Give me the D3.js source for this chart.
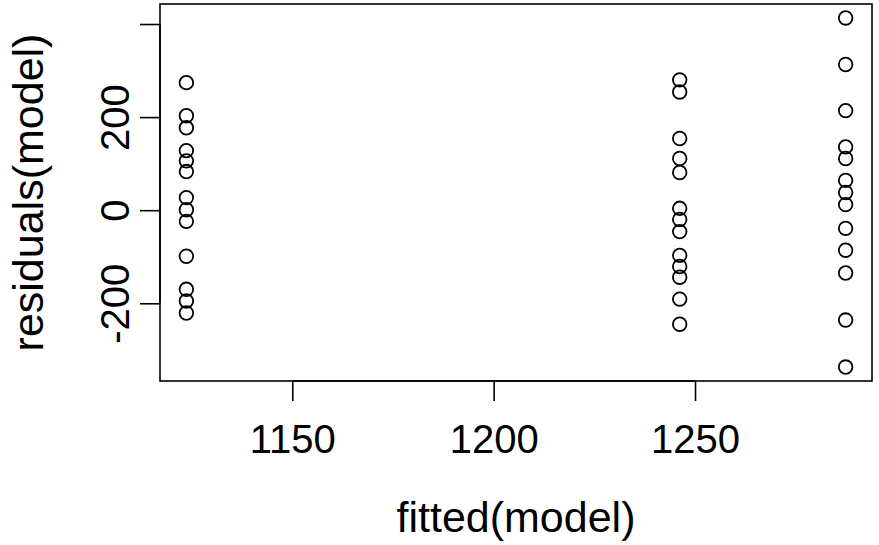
<!DOCTYPE html>
<html>
<head>
<meta charset="utf-8">
<script src="https://cdn.jsdelivr.net/npm/d3@7/dist/d3.min.js"></script>
<style>
  body { margin: 0; background: #fff; }
  svg text { font-family: "Liberation Sans", Arial, sans-serif; fill: #000; }
</style>
</head>
<body>
<svg id="chart"></svg>
<script>
// fitted values (three groups) and residuals
const fittedLevels = [1123.7, 1246.2, 1287.4];
const residGroup1 = [274, 203, 177, 128, 106, 83, 27, 1, -24, -99, -170, -195, -221];
const residGroup2 = [280, 254, 154, 111, 81, 4, -20, -46, -97, -121, -144, -191, -245];
const residGroup3 = [413, 313, 214, 136, 111, 64, 38, 12, -39, -86, -135, -236, -337];
const xTicks = [1150, 1200, 1250];
const yTicks = [-200, 0, 200, 400];
const yTickLabels = ["-200", "0", "200", ""]; // R drops the 400 label
const xLabel = "fitted(model)";
const yLabel = "residuals(model)";

const width = 879, height = 545;
const plot = {left: 160, right: 872, top: 4, bottom: 381};

const points = [];
[residGroup1, residGroup2, residGroup3].forEach((grp, i) => {
    grp.forEach(r => points.push({fitted: fittedLevels[i], resid: r}));
});

// R style: extend the data range by 4% on each side
const pad = ([lo, hi]) => [lo - (hi - lo) * 0.04, hi + (hi - lo) * 0.04];

const x = d3.scaleLinear()
    .domain(pad(d3.extent(points, d => d.fitted)))
    .range([plot.left, plot.right]);
const y = d3.scaleLinear()
    .domain(pad(d3.extent(points, d => d.resid)))
    .range([plot.bottom, plot.top]);

const svg = d3.select("#chart").attr("width", width).attr("height", height);

// box
svg.append("rect")
    .attr("x", plot.left).attr("y", plot.top)
    .attr("width", plot.right - plot.left).attr("height", plot.bottom - plot.top)
    .attr("fill", "none").attr("stroke", "#000").attr("stroke-width", 1.6);

// x axis
const xAxis = svg.append("g")
    .attr("transform", `translate(0,${plot.bottom})`)
    .call(d3.axisBottom(x).tickValues(xTicks).tickSize(20).tickPadding(0).tickSizeOuter(0)
        .tickFormat(d3.format("d")));
xAxis.select(".domain").attr("d", `M${x(xTicks[0])},0H${x(xTicks[xTicks.length - 1])}`)
    .attr("stroke-width", 1.6);
xAxis.selectAll(".tick line").attr("stroke-width", 1.6);
xAxis.selectAll(".tick text")
    .attr("y", 72).attr("dy", null)
    .style("font-size", "40px");

// y axis
const yAxis = svg.append("g")
    .attr("transform", `translate(${plot.left},0)`)
    .call(d3.axisLeft(y).tickValues(yTicks).tickSize(20).tickSizeOuter(0)
        .tickFormat((d, i) => yTickLabels[i]));
yAxis.select(".domain").attr("d", `M0,${y(yTicks[0])}V${y(yTicks[yTicks.length - 1])}`)
    .attr("stroke-width", 1.6);
yAxis.selectAll(".tick line").attr("stroke-width", 1.6);
yAxis.selectAll(".tick text")
    .attr("x", null).attr("dy", null)
    .attr("text-anchor", "middle")
    .attr("transform", "translate(-31,0) rotate(-90)")
    .style("font-size", "40px");

// points
svg.append("g")
    .selectAll("circle")
    .data(points)
    .enter()
    .append("circle")
    .attr("cx", d => x(d.fitted))
    .attr("cy", d => y(d.resid))
    .attr("r", 6.8)
    .attr("fill", "none")
    .attr("stroke", "#000")
    .attr("stroke-width", 1.8);

// axis titles
svg.append("text")
    .attr("x", (plot.left + plot.right) / 2)
    .attr("y", 532)
    .attr("text-anchor", "middle")
    .style("font-size", "43px")
    .text(xLabel);

svg.append("text")
    .attr("transform", `translate(43,${(plot.top + plot.bottom) / 2}) rotate(-90)`)
    .attr("text-anchor", "middle")
    .style("font-size", "43px")
    .text(yLabel);
</script>
</body>
</html>
